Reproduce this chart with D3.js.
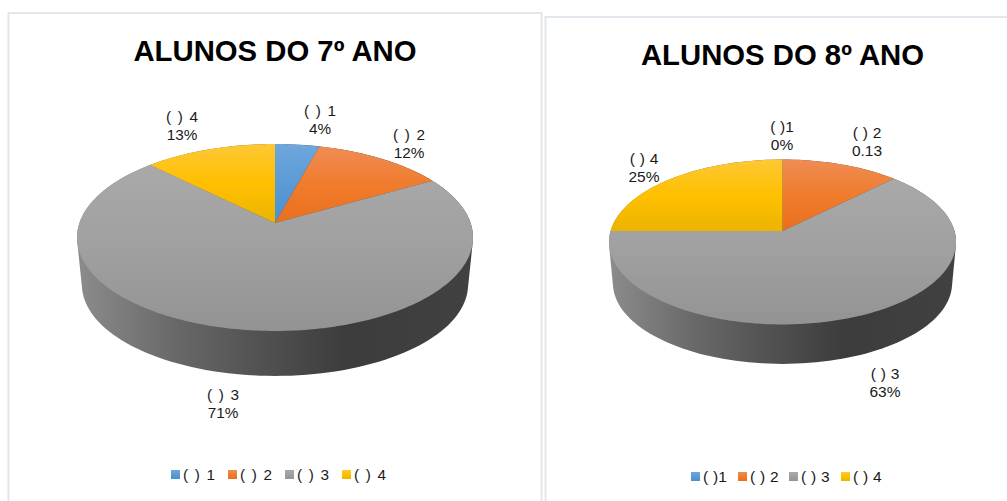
<!DOCTYPE html>
<html>
<head>
<meta charset="utf-8">
<style>
  html, body { margin: 0; padding: 0; background: #fff; overflow: hidden; }
  text { font-family: "Liberation Sans", Arial, sans-serif; fill: #1a1a1a; }
</style>
</head>
<body>
<script src="https://cdnjs.cloudflare.com/ajax/libs/d3/7.8.5/d3.min.js"></script>
<script>
// data
var titles = ['ALUNOS DO 7º ANO', 'ALUNOS DO 8º ANO'];
var categories7 = ['( ) 1', '( ) 2', '( ) 3', '( ) 4'];
var categories8 = ['( )1', '( ) 2', '( ) 3', '( ) 4'];
var values7 = [4.2, 12.5, 70.8, 12.5];
var values8 = [0, 12.5, 62.5, 25];
var valueLabels7 = ['4%', '12%', '71%', '13%'];
var valueLabels8 = ['0%', '0.13', '63%', '25%'];

var colors = [
  ['#6fa6de', '#5b9bd5', '#4a90d2'],
  ['#ef8c55', '#f07c2c', '#e96f1e'],
  ['#a9a9a9', '#a0a0a0', '#939393'],
  ['#fdc835', '#ffc000', '#ebb400']
];

var w = 1007, h = 501;
var svg = d3.select('body').append('svg').attr('width', w).attr('height', h);
var defs = svg.append('defs');

// legend swatch gradients and slice gradients share these
colors.forEach(function (c, i) {
  var g = defs.append('linearGradient').attr('id', 'slice' + i)
    .attr('x1', 0).attr('y1', 0).attr('x2', 0).attr('y2', 1);
  g.selectAll('stop').data(c).enter().append('stop')
    .attr('offset', function (d, j) { return j / 2; })
    .attr('stop-color', function (d) { return d; });
});
var wall = defs.append('linearGradient').attr('id', 'wall')
  .attr('x1', 0).attr('y1', 0).attr('x2', 1).attr('y2', 0);
[[0, '#8c8c8c'], [0.25, '#686868'], [0.45, '#535353'], [0.68, '#3c3c3c'], [1, '#414141']].forEach(function (s) {
  wall.append('stop').attr('offset', s[0]).attr('stop-color', s[1]);
});

// panel frames
svg.append('rect').attr('x', 8.5).attr('y', 13).attr('width', 533).attr('height', 500)
  .attr('fill', '#fff').attr('stroke', '#e1e7ed').attr('stroke-width', 2);
svg.append('rect').attr('x', 545.5).attr('y', 17).attr('width', 480).attr('height', 500)
  .attr('fill', '#fff').attr('stroke', '#e1e7ed').attr('stroke-width', 2);

function drawPie(p) {
  var g = svg.append('g');

  g.append('text').attr('x', p.titleX).attr('y', p.titleY)
    .attr('text-anchor', 'middle').attr('font-size', 29.3).attr('font-weight', 'bold')
    .style('fill', '#000').text(p.title);

  // perspective map of the unit disc, apex at (cx, cy)
  function project(a, scale, cy) {
    var u = Math.sin(a), v = Math.cos(a), d = 1 + p.k * v;
    return [p.cx + scale * p.R * u / d, cy - scale * p.B * v / d];
  }
  var angles = d3.range(0, 361, 2).map(function (d) { return d * Math.PI / 180; });
  var rimTop = angles.map(function (a) { return project(a, 1, p.cy); });
  var rimBottom = angles.map(function (a) { return project(a, p.shrink, p.cyBottom); });
  var hull = d3.polygonHull(rimTop.concat(rimBottom));

  g.append('path').attr('d', 'M' + hull.join('L') + 'Z').attr('fill', 'url(#wall)');

  var arcs = d3.pie().sort(null)(p.values);
  var line = d3.line();
  g.selectAll('path.slice').data(arcs).enter().append('path')
    .attr('class', 'slice')
    .filter(function (d) { return d.endAngle > d.startAngle; })
    .attr('d', function (d) {
      var n = Math.max(2, Math.ceil((d.endAngle - d.startAngle) * 60));
      var pts = d3.range(n + 1).map(function (i) {
        return project(d.startAngle + (d.endAngle - d.startAngle) * i / n, 1, p.cy);
      });
      return line([[p.cx, p.cy]].concat(pts)) + 'Z';
    })
    .attr('fill', function (d) { return 'url(#slice' + d.index + ')'; });

  // data labels
  p.categories.forEach(function (c, i) {
    var t = g.append('text').attr('text-anchor', 'middle').attr('font-size', p.fontSize)
      .attr('word-spacing', p.wordSpacing);
    t.append('tspan').attr('x', p.labelAt[i][0]).attr('y', p.labelAt[i][1]).text(c);
    t.append('tspan').attr('x', p.labelAt[i][0]).attr('y', p.labelAt[i][1] + 18).text(p.labels[i]);
  });

  // legend
  var leg = g.selectAll('g.leg').data(p.categories).enter().append('g').attr('class', 'leg')
    .attr('transform', function (d, i) { return 'translate(' + p.legendX[i] + ',' + p.legendY + ')'; });
  leg.append('rect').attr('width', 9).attr('height', 9)
    .attr('fill', function (d, i) { return 'url(#slice' + i + ')'; });
  leg.append('text').attr('x', 12).attr('y', 9.5).attr('font-size', p.fontSize)
    .attr('word-spacing', p.wordSpacing).text(function (d) { return d; });
}

drawPie({
  title: titles[0], titleX: 275, titleY: 61,
  categories: categories7, values: values7, labels: valueLabels7,
  cx: 275, cy: 223, cyBottom: 270.7, R: 195.6, B: 91.2, k: 0.155, shrink: 0.975,
  fontSize: 15.3, wordSpacing: 2.4,
  labelAt: [[320, 116], [409, 140], [223, 400], [182, 122]],
  legendX: [171, 228, 285, 342], legendY: 470
});
drawPie({
  title: titles[1], titleX: 782.5, titleY: 65,
  categories: categories8, values: values8, labels: valueLabels8,
  cx: 782.5, cy: 231, cyBottom: 272.6, R: 172, B: 81, k: 0.133, shrink: 0.977,
  fontSize: 15.5, wordSpacing: 0.5,
  labelAt: [[782, 132], [867, 138], [885, 379], [644, 164]],
  legendX: [691, 738, 789, 841], legendY: 472
});
</script>
</body>
</html>
